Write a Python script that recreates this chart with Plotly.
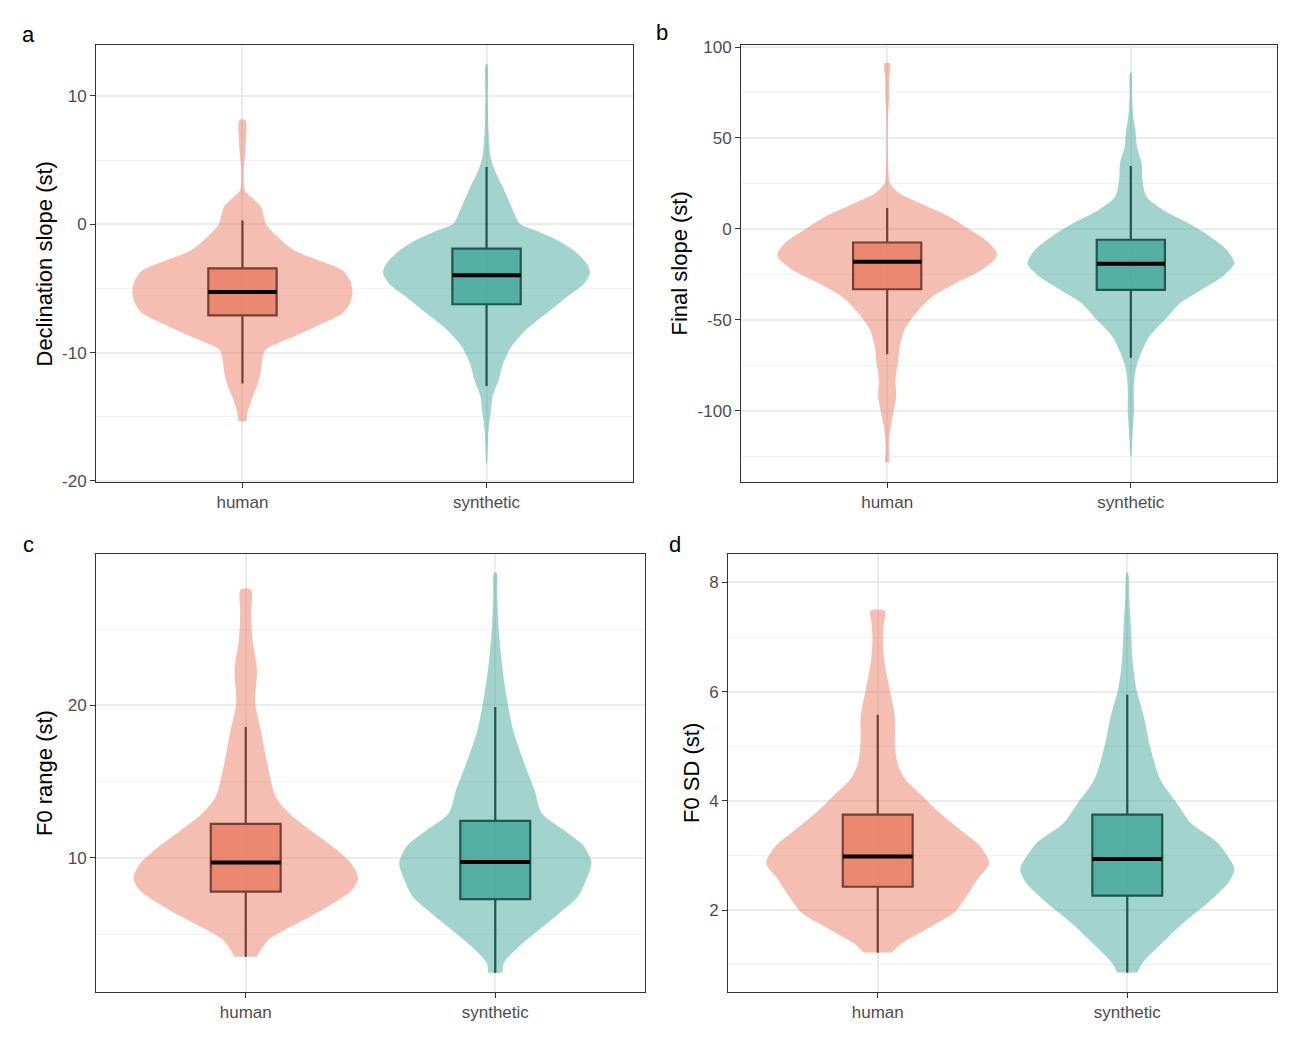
import plotly.graph_objects as go

groups = ["human", "synthetic"]

# box stats: lower whisker, q1, median, q3, upper whisker
decl_human_box = [-12.4, -7.09, -5.27, -3.43, 0.3]
decl_synth_box = [-12.6, -6.23, -3.98, -1.9, 4.47]
final_human_box = [-69.0, -33.2, -18.1, -7.5, 11.5]
final_synth_box = [-70.9, -33.5, -19.2, -6.0, 34.6]
range_human_box = [3.52, 7.79, 9.69, 12.23, 18.58]
range_synth_box = [2.47, 7.29, 9.72, 12.43, 19.89]
sd_human_box = [1.225, 2.427, 2.983, 3.746, 5.578]
sd_synth_box = [0.858, 2.263, 2.934, 3.746, 5.944]

# violin outlines: value (y) and half width (in category units), bottom to top
decl_human_y = [-15.36, -14.72, -13.42, -12.38, -11.35, -10.57, -9.79, -9.27, -8.5, -7.72,
                -6.94, -6.17, -5.26, -4.35, -3.58, -2.8, -2.02, -0.98, 0.0, 1.35, 2.12,
                2.64, 4.2, 6.01, 8.13]
decl_human_w = [0.017, 0.02, 0.042, 0.064, 0.076, 0.081, 0.093, 0.144, 0.24, 0.33,
                0.41, 0.44, 0.451, 0.44, 0.41, 0.31, 0.21, 0.144, 0.097, 0.076, 0.036,
                0.01, 0.005, 0.013, 0.012]
decl_synth_y = [-18.6, -17.3, -16.01, -14.72, -13.42, -12.12, -10.83, -9.53, -8.24, -6.94,
                -5.65, -4.61, -3.78, -3.06, -2.02, -1.24, -0.47, 0.05, 0.83, 2.12, 3.16,
                4.2, 5.2, 7.3, 9.9, 12.49]
decl_synth_w = [0.002, 0.005, 0.008, 0.017, 0.025, 0.05, 0.068, 0.102, 0.161, 0.246,
                0.33, 0.40, 0.424, 0.41, 0.356, 0.29, 0.2, 0.136, 0.114, 0.085, 0.06,
                0.034, 0.017, 0.008, 0.005, 0.003]

final_human_y = [-128.4, -119.6, -110.4, -101.3, -92.1, -83.0, -73.8, -64.7, -55.5, -46.3,
                 -37.2, -29.9, -22.5, -14.5, -7.9, -0.5, 6.8, 14.1, 19.6, 25.1, 32.4,
                 45.2, 63.6, 72.7, 81.9, 91.0]
final_human_w = [0.01, 0.007, 0.012, 0.025, 0.037, 0.034, 0.044, 0.051, 0.071, 0.119,
                 0.186, 0.28, 0.39, 0.451, 0.42, 0.34, 0.254, 0.135, 0.05, 0.011, 0.005,
                 0.003, 0.004, 0.008, 0.008, 0.011]
final_synth_y = [-125.1, -110.4, -99.5, -88.5, -77.5, -68.3, -59.2, -50.0, -40.8, -33.5,
                 -26.2, -18.9, -11.5, -4.2, 3.1, 10.4, 17.8, 26.9, 36.1, 45.2, 54.4,
                 61.7, 72.7, 85.9]
final_synth_w = [0.002, 0.008, 0.013, 0.012, 0.02, 0.042, 0.076, 0.14, 0.203, 0.29,
                 0.376, 0.424, 0.393, 0.325, 0.237, 0.132, 0.064, 0.048, 0.044, 0.025,
                 0.019, 0.01, 0.005, 0.003]

range_human_y = [3.52, 4.62, 5.71, 6.81, 7.9, 8.71, 9.65, 10.53, 11.84, 12.93, 14.03,
                 16.21, 18.4, 20.15, 22.34, 24.31, 26.06, 27.59]
range_human_w = [0.045, 0.091, 0.207, 0.33, 0.427, 0.45, 0.422, 0.364, 0.257, 0.174, 0.12,
                 0.086, 0.06, 0.038, 0.045, 0.027, 0.022, 0.021]
range_synth_y = [2.47, 3.09, 4.18, 5.27, 6.37, 7.46, 8.56, 9.65, 10.74, 11.84, 12.93,
                 14.46, 16.21, 18.4, 20.59, 22.78, 24.97, 27.16, 28.69]
range_synth_w = [0.029, 0.033, 0.095, 0.174, 0.257, 0.331, 0.364, 0.385, 0.356, 0.273,
                 0.186, 0.157, 0.116, 0.071, 0.045, 0.026, 0.014, 0.008, 0.005]

sd_human_y = [1.225, 1.4, 1.64, 1.95, 2.25, 2.56, 2.86, 3.17, 3.47, 3.78, 4.08, 4.39,
              4.69, 5.06, 5.55, 6.04, 6.52, 6.95, 7.26, 7.48]
sd_human_w = [0.056, 0.099, 0.19, 0.305, 0.355, 0.40, 0.447, 0.41, 0.33, 0.248, 0.18,
              0.111, 0.079, 0.069, 0.068, 0.048, 0.028, 0.021, 0.025, 0.029]
sd_synth_y = [0.858, 1.03, 1.4, 1.76, 2.13, 2.49, 2.74, 2.86, 3.23, 3.59, 3.96, 4.39,
              5.0, 5.55, 6.04, 6.52, 7.13, 7.74, 8.17]
sd_synth_w = [0.041, 0.061, 0.14, 0.223, 0.322, 0.404, 0.429, 0.42, 0.363, 0.256, 0.198,
              0.132, 0.091, 0.066, 0.037, 0.022, 0.015, 0.008, 0.003]

# y tick values per panel
decl_ticks = [-20, -10, 0, 10]
final_ticks = [-100, -50, 0, 50, 100]
range_ticks = [10, 20]
sd_ticks = [2, 4, 6, 8]

violin_colors = ["rgba(233,127,101,0.5)", "rgba(69,169,155,0.5)"]
box_colors = ["rgba(229,117,93,0.8)", "rgba(56,164,146,0.8)"]
box_width = 0.28
FONT = "Arial, Liberation Sans, sans-serif"

W, H = 1299, 1039

panels = [
    dict(letter="a", title="Declination slope (st)",
         violins=[(decl_human_y, decl_human_w), (decl_synth_y, decl_synth_w)],
         boxes=[decl_human_box, decl_synth_box], ticks=decl_ticks,
         px=(96, 633), py=(45, 482), yr=[-20.08, 13.97], minor=5,
         letter_xy=(28, 35), title_x=44),
    dict(letter="b", title="Final slope (st)",
         violins=[(final_human_y, final_human_w), (final_synth_y, final_synth_w)],
         boxes=[final_human_box, final_synth_box], ticks=final_ticks,
         px=(741, 1277), py=(45, 482), yr=[-139.2, 101.1], minor=25,
         letter_xy=(662, 33), title_x=679),
    dict(letter="c", title="F0 range (st)",
         violins=[(range_human_y, range_human_w), (range_synth_y, range_synth_w)],
         boxes=[range_human_box, range_synth_box], ticks=range_ticks,
         px=(96, 645), py=(554, 992), yr=[1.2, 29.93], minor=5,
         letter_xy=(28, 544), title_x=44),
    dict(letter="d", title="F0 SD (st)",
         violins=[(sd_human_y, sd_human_w), (sd_synth_y, sd_synth_w)],
         boxes=[sd_human_box, sd_synth_box], ticks=sd_ticks,
         px=(728, 1277), py=(554, 992), yr=[0.5, 8.52], minor=1,
         letter_xy=(675, 544), title_x=691),
]

fig = go.Figure()
annotations = []
layout = {}

for i, p in enumerate(panels):
    n = "" if i == 0 else str(i + 1)
    xref, yref = "x" + n, "y" + n
    for g, ((vy, vw), stats) in enumerate(zip(p["violins"], p["boxes"])):
        c = g + 1
        xs = [c + w for w in vw] + [c - w for w in vw[::-1]]
        ys = list(vy) + list(vy[::-1])
        fig.add_trace(go.Scatter(
            x=xs, y=ys, xaxis=xref, yaxis=yref, mode="lines", fill="toself",
            fillcolor=violin_colors[g], line=dict(width=0, shape="spline", smoothing=0.8),
            hoverinfo="skip", showlegend=False))
        lo, q1, med, q3, hi = stats
        fig.add_trace(go.Box(
            x=[c], q1=[q1], median=[med], q3=[q3], lowerfence=[lo], upperfence=[hi],
            xaxis=xref, yaxis=yref, width=box_width, whiskerwidth=0,
            fillcolor=box_colors[g], line=dict(color="black", width=2.2),
            boxpoints=False, hoverinfo="skip", showlegend=False))
        fig.add_trace(go.Scatter(
            x=[c - box_width / 2, c + box_width / 2], y=[med, med],
            xaxis=xref, yaxis=yref, mode="lines", line=dict(color="black", width=4),
            hoverinfo="skip", showlegend=False))

    x0, x1 = p["px"]
    y0, y1 = p["py"]
    axis_common = dict(
        showline=True, mirror=True, linecolor="#333333", linewidth=1,
        ticks="outside", ticklen=5, tickcolor="#333333", tickwidth=1,
        tickfont=dict(family=FONT, size=17, color="#4D4D4D"),
        gridcolor="#EBEBEB", gridwidth=1.5, zeroline=False, automargin=False,
    )
    layout["xaxis" + n] = dict(
        axis_common, domain=[x0 / W, x1 / W], range=[0.4, 2.6],
        tickvals=[1, 2], ticktext=groups, anchor=yref, fixedrange=True)
    layout["yaxis" + n] = dict(
        axis_common, domain=[1 - y1 / H, 1 - y0 / H], range=p["yr"],
        tickvals=p["ticks"], ticktext=[str(t) for t in p["ticks"]], anchor=xref,
        minor=dict(dtick=p["minor"], tick0=0, showgrid=True, gridcolor="#F2F2F2",
                   gridwidth=1, ticklen=0))
    lx, ly = p["letter_xy"]
    annotations.append(dict(
        text=p["letter"], x=lx / W, y=1 - ly / H, xref="paper", yref="paper",
        showarrow=False, xanchor="center", yanchor="middle",
        font=dict(family=FONT, size=22, color="black")))
    annotations.append(dict(
        text=p["title"], x=p["title_x"] / W, y=1 - (y0 + y1) / 2 / H,
        xref="paper", yref="paper", showarrow=False, textangle=-90,
        xanchor="center", yanchor="middle",
        font=dict(family=FONT, size=22, color="black")))

fig.update_layout(
    width=W, height=H, margin=dict(l=0, r=0, t=0, b=0, autoexpand=False),
    plot_bgcolor="white", paper_bgcolor="white",
    annotations=annotations, **layout)

fig.write_html("out.html", config={"displayModeBar": False},
               post_script="document.body.style.margin='0px';")
